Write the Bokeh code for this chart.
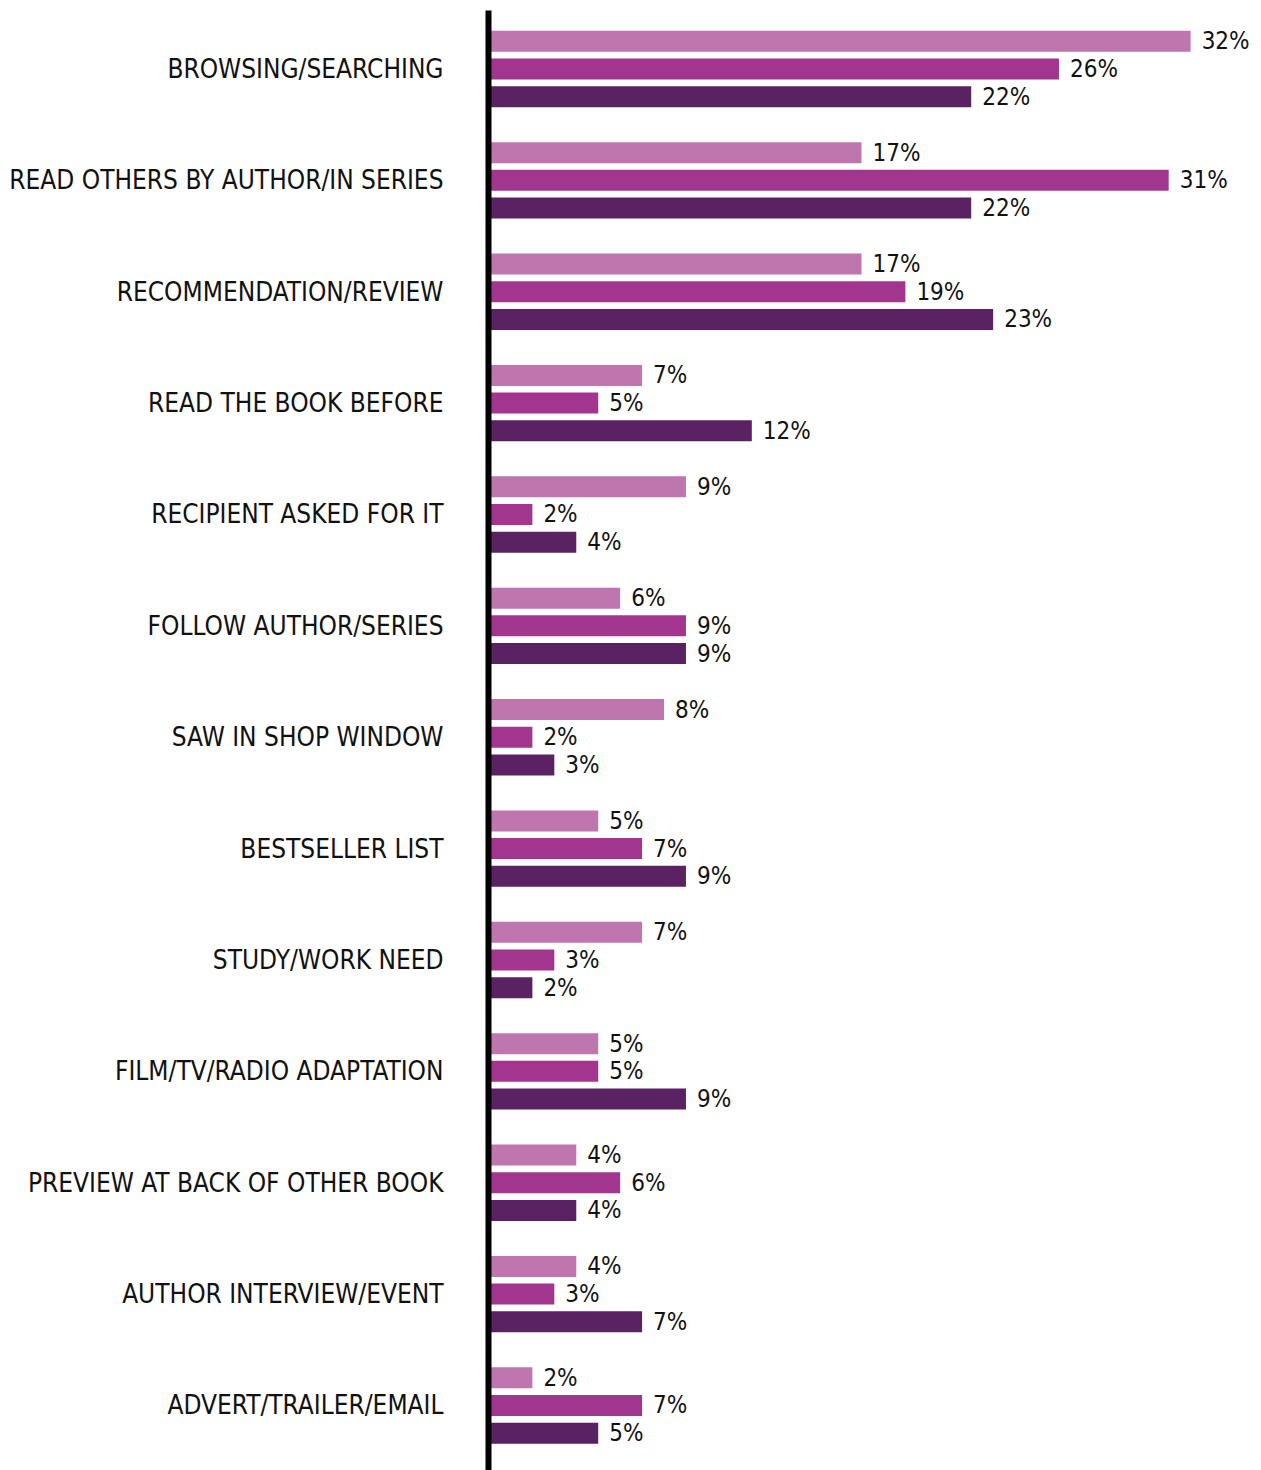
from bokeh.plotting import figure
from bokeh.models import Range1d, FixedTicker, ColumnDataSource
from bokeh.core.properties import value
from bokeh.embed import file_html
from bokeh.resources import INLINE

categories = [
    "BROWSING/SEARCHING",
    "READ OTHERS BY AUTHOR/IN SERIES",
    "RECOMMENDATION/REVIEW",
    "READ THE BOOK BEFORE",
    "RECIPIENT ASKED FOR IT",
    "FOLLOW AUTHOR/SERIES",
    "SAW IN SHOP WINDOW",
    "BESTSELLER LIST",
    "STUDY/WORK NEED",
    "FILM/TV/RADIO ADAPTATION",
    "PREVIEW AT BACK OF OTHER BOOK",
    "AUTHOR INTERVIEW/EVENT",
    "ADVERT/TRAILER/EMAIL",
]
series_1 = [32, 17, 17, 7, 9, 6, 8, 5, 7, 5, 4, 4, 2]
series_2 = [26, 31, 19, 5, 2, 9, 2, 7, 3, 5, 6, 3, 7]
series_3 = [22, 22, 23, 12, 4, 9, 3, 9, 2, 9, 4, 7, 5]
colors = ["#BF76AE", "#A2368F", "#5A2262"]

FONT = "DejaVu Sans Condensed"

p = figure(width=1261, height=1470, output_backend="svg", toolbar_location=None,
           x_range=Range1d(0, 35.23), y_range=Range1d(12.584, -0.525),
           min_border_left=488, min_border_right=0, min_border_top=10, min_border_bottom=0)

offsets = [-0.2487, 0.0, 0.2487]
bar_h = 0.1886
idx = list(range(len(categories)))
for vals, off, col in zip([series_1, series_2, series_3], offsets, colors):
    src = ColumnDataSource(dict(
        y=[i + off for i in idx],
        v=vals,
        lab=[f"{v}%" for v in vals],
    ))
    p.hbar(y="y", left=0, right="v", height=bar_h, color=col, line_color=None, source=src)
    p.text(x="v", y="y", text="lab", source=src, x_offset=11, text_baseline="middle",
           text_align="left", text_font=value(FONT), text_font_size="24px", text_color="#111111")

p.xaxis.visible = False
p.xgrid.visible = False
p.ygrid.visible = False
p.outline_line_color = None

ax = p.yaxis[0]
ax.ticker = FixedTicker(ticks=idx)
ax.major_label_overrides = {i: c for i, c in enumerate(categories)}
ax.major_tick_line_color = None
ax.minor_tick_line_color = None
ax.major_tick_out = 0
ax.major_tick_in = 0
ax.axis_line_width = 6
ax.axis_line_color = "#000000"
ax.major_label_standoff = 45
ax.major_label_text_font = FONT
ax.major_label_text_font_size = "26px"
ax.major_label_text_color = "#111111"

open("out.html", "w").write(file_html(p, INLINE))
